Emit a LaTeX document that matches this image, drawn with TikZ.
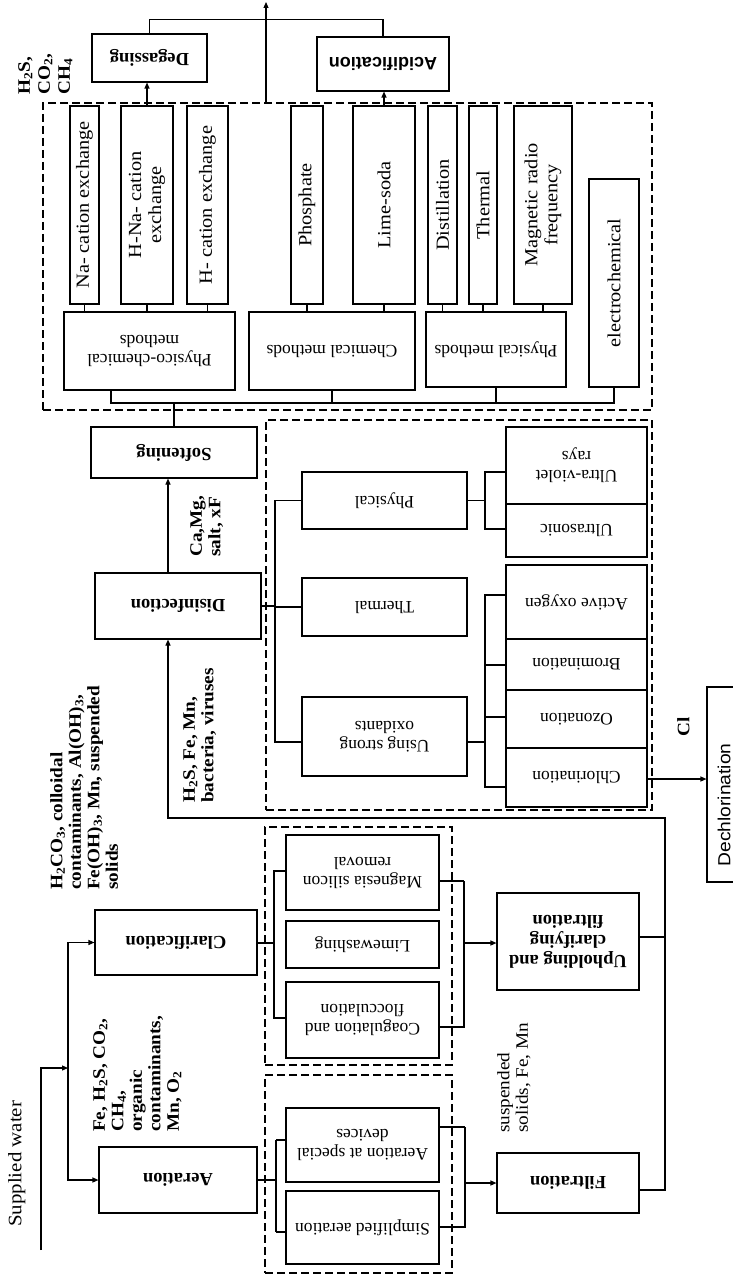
\documentclass[tikz,border=0pt]{standalone}
\usepackage{fontspec}
\setmainfont{Liberation Serif}
\newfontfamily\vfont[FakeStretch=1.1]{Liberation Serif}
\newfontfamily\hsans{Liberation Sans}
\newfontfamily\vsans[FakeStretch=1.1]{Liberation Sans}
\usetikzlibrary{arrows.meta,fit}
\newcommand\sub[1]{\textsubscript{#1}}
\tikzset{
  bx/.style={draw, line width=1.1pt, inner sep=0pt},
  htxt/.style={rotate=180, align=center, inner sep=0pt},
  vtxt/.style={rotate=90, align=center, inner sep=0pt},
  mf/.style={font=\fontsize{18.5}{20}\selectfont\bfseries},
  sf/.style={font=\fontsize{17.5}{19}\selectfont},
  vf/.style={font=\vfont\fontsize{18.5}{20}\selectfont},
  af/.style={font=\hsans\bfseries\fontsize{18}{20}\selectfont},
  df/.style={font=\vsans\fontsize{17.5}{19}\selectfont},
  dbox/.style={draw, line width=1.1pt, dash pattern=on 8pt off 4pt, inner sep=0pt},
  lab/.style={rotate=90, anchor=north west, align=left, inner sep=0pt, font=\vfont\bfseries\fontsize{17.5}{18.5}\selectfont},
  ln/.style={line width=1.1pt},
  thk/.style={line width=2.4pt},
  arr/.style={line width=1.1pt, -{Triangle[length=6pt,width=5pt]}},
}
\newcommand\HB[4]{\node[bx, fit={#2}] (#1) {}; \node[htxt,#3] (#1t) at (#1.center) {#4};}
\newcommand\VB[4]{\node[bx, fit={#2}] (#1) {}; \node[vtxt,#3] (#1t) at (#1.center) {#4};}
\begin{document}
\begin{tikzpicture}[x=1pt,y=-1pt]
\clip (0,0) rectangle (733,1279);
\fill[white] (0,0) rectangle (733,1279);
% dashed group frames
\node[dbox, fit={(43,103) (652,410)}] (gsoft) {};
\node[dbox, fit={(266,420) (652,810)}] (gdis) {};
\node[dbox, fit={(265,827) (452,1065)}] (gclar) {};
\node[dbox, fit={(265,1075) (452,1273)}] (gaer) {};
% main boxes
\HB{aer}{(99,1147) (257,1213)}{mf}{Aeration}
\HB{clar}{(95,910) (257,975)}{mf}{Clarification}
\HB{filt}{(497,1153) (639,1213)}{mf}{Filtration}
\HB{uph}{(497,893) (639,990)}{mf}{Upholding and\\clarifying\\filtration}
\HB{dis}{(95,573) (261,639)}{mf}{Disinfection}
\HB{soft}{(91,427) (257,478)}{mf}{Softening}
\HB{deg}{(92,34) (207,82)}{mf}{Degassing}
\HB{acid}{(317,37) (449,91)}{af}{Acidification}
% sub boxes (horizontal)
\HB{simp}{(286,1191) (439,1264)}{sf}{Simplified aeration}
\HB{aspec}{(286,1108) (439,1182)}{sf}{Aeration at special\\devices}
\HB{coag}{(286,982) (439,1058)}{sf}{Coagulation and\\flocculation}
\HB{lime}{(286,921) (439,968)}{sf}{Limewashing}
\HB{magn}{(286,835) (439,910)}{sf}{Magnesia silicon\\removal}
\HB{oxid}{(302,697) (467,776)}{sf}{Using strong\\oxidants}
\HB{therm}{(302,578) (467,636)}{sf}{Thermal}
\HB{phys}{(302,472) (467,529)}{sf}{Physical}
\HB{uv}{(506,427) (647,504)}{sf}{Ultra-violet\\rays}
\HB{us}{(506,504) (647,557)}{sf}{Ultrasonic}
\HB{ao}{(506,565) (647,639)}{sf}{Active oxygen}
\HB{brom}{(506,639) (647,690)}{sf}{Bromination}
\HB{ozon}{(506,690) (647,748)}{sf}{Ozonation}
\HB{chlor}{(506,748) (647,807)}{sf}{Chlorination}
\HB{pcm}{(64,312) (235,390)}{sf}{Physico-chemical\\methods}
\HB{chm}{(249,312) (415,390)}{sf}{Chemical methods}
\HB{phm}{(426,312) (566,387)}{sf}{Physical methods}
% vertical boxes
\VB{elec}{(589,179) (639,387)}{vf}{electrochemical}
\VB{na}{(70,106) (99,304)}{vf}{Na- cation exchange}
\VB{hna}{(121,106) (173,304)}{vf}{H-Na- cation\\exchange}
\VB{hc}{(187,106) (228,304)}{vf}{H- cation exchange}
\VB{phos}{(291,106) (323,304)}{vf}{Phosphate}
\VB{ls}{(353,106) (415,304)}{vf}{Lime-soda}
\VB{dist}{(428,106) (457,304)}{vf}{Distillation}
\VB{th2}{(469,106) (497,304)}{vf}{Thermal}
\VB{mag}{(514,106) (572,304)}{vf}{Magnetic radio\\frequency}
\node[bx, fit={(707,687) (745,882)}] (dechl) {};
\node[vtxt, df] (dechlt) at (724,805) {Dechlorination};
% labels
\node[lab, font=\vfont\fontsize{19}{20}\selectfont] (lsup) at (8,1227) {Supplied water};
\node[lab] (l1) at (93,1132) {Fe, H\sub{2}S, CO\sub{2},\\CH\sub{4},\\organic\\contaminants,\\Mn, O\sub{2}};
\node[lab] (l2) at (50,890) {H\sub{2}CO\sub{3}, colloidal\\contaminants, Al(OH)\sub{3},\\Fe(OH)\sub{3}, Mn, suspended\\solids};
\node[lab] (l3) at (183,803) {H\sub{2}S, Fe, Mn,\\bacteria, viruses};
\node[lab] (l4) at (190,557) {Ca,Mg,\\salt, xF};
\node[lab, font=\vfont\fontsize{17.5}{18.5}\selectfont] (l5) at (497,1133) {suspended\\solids, Fe, Mn};
\node[lab, font=\vfont\bfseries\fontsize{17.5}{20}\selectfont] (l6) at (18,95) {H\sub{2}S,\\CO\sub{2},\\CH\sub{4}};
\node[lab] (lcl) at (677,737) {Cl};
% input
\coordinate (src) at (41,1250);
\coordinate (jn) at (68,1068);
\draw[arr] (src) |- (jn);
\draw[arr] (jn) |- (clar.west);
\draw[arr] (jn) |- (aer.west);
% aeration group
\draw[thk] (aer.east) -- (aer.east -| 276,0);
\draw[thk] (276,1140) -- (276,1232);
\draw[ln] (276,1140) -- (aspec.west |- 0,1140);
\draw[ln] (276,1232) -- (simp.west |- 0,1232);
\draw[thk] (aspec.east |- 0,1127) -- (465,1127);
\draw[ln] (465,1127) -- (465,1227) -- (simp.east |- 0,1227);
\draw[arr] (465,1183) -- (filt.west |- 0,1183);
% clarification group
\draw[ln] (clar.east |- 0,943) -- (274,943);
\draw[ln] (magn.west |- 0,871) -- (274,871) -- (274,1018) -- (coag.west |- 0,1018);
\draw[thk] (magn.east |- 0,881) -- (464,881);
\draw[ln] (464,881) -- (464,1027) -- (coag.east |- 0,1027);
\draw[arr] (464,943) -- (uph.west |- 0,943);
% filtration to disinfection
\draw[thk] (uph.east |- 0,937) -- (665,937);
\draw[arr] (filt.east |- 0,1190) -- (665,1190) |- (168,818) -- (dis.south -| 168,0);
% disinfection to softening
\draw[arr] (dis.north -| 168,0) -- (soft.south -| 168,0);
% disinfection group
\draw[ln] (dis.east) -- (dis.east -| 275,0);
\draw[ln] (phys.west) -- (phys.west -| 275,0) -- (275,742) -- (oxid.west |- 0,742);
\draw[ln] (therm.west) -- (therm.west -| 275,0);
\draw[ln] (phys.east) -- (phys.east -| 485,0);
\draw[ln] (uv.west |- 0,472) -- (485,472) -- (485,529) -- (us.west |- 0,529);
\draw[ln] (oxid.east |- 0,742) -- (485,742);
\draw[ln] (ao.west |- 0,595) -| (485,787) -- (chlor.west |- 0,787);
\draw[ln] (brom.west |- 0,665) -- (485,665);
\draw[ln] (ozon.west |- 0,717) -- (485,717);
\draw[arr] (chlor.east |- 0,779) -- (dechl.west |- 0,779);
% softening group
\draw[ln] (soft.north) -- (soft.north |- 0,403);
\draw[ln] (pcm.south -| 111,0) -- (111,403) -| (elec.south);
\draw[ln] (chm.south) -- (chm.south |- 0,403);
\draw[ln] (phm.south) -- (phm.south |- 0,403);
\draw[ln] (na.south) -- (na.south |- pcm.north);
\draw[ln] (hna.south) -- (hna.south |- pcm.north);
\draw[ln] (hc.south) -- (hc.south |- pcm.north);
\draw[ln] (phos.south) -- (phos.south |- chm.north);
\draw[ln] (ls.south) -- (ls.south |- chm.north);
\draw[ln] (dist.south) -- (dist.south |- phm.north);
\draw[ln] (th2.south) -- (th2.south |- phm.north);
\draw[ln] (mag.south) -- (mag.south |- phm.north);
% top
\draw[arr] (hna.north) -- (hna.north |- deg.south);
\draw[arr] (ls.north) -- (ls.north |- acid.south);
\draw[ln] (deg.north) -- ++(0,-14) -| (acid.north);
\coordinate (outS) at (266,103);
\coordinate (outE) at (266,2);
\draw[arr] (outS) -- (outE);
\end{tikzpicture}
\end{document}
